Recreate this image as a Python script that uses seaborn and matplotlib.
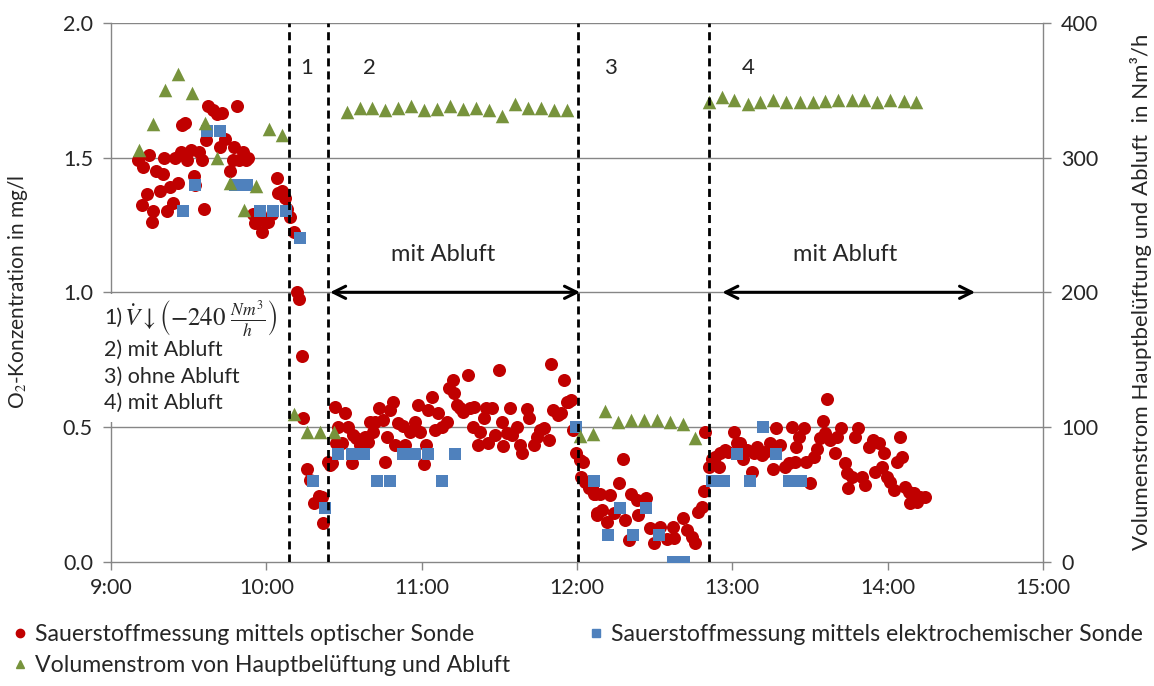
import numpy as np
import pandas as pd
import matplotlib
matplotlib.use("Agg")
import matplotlib.pyplot as plt
import seaborn as sns
from matplotlib.lines import Line2D
from matplotlib.patches import Rectangle
from matplotlib.ticker import FuncFormatter, MultipleLocator

# ---------------- data (time in minutes after 9:00) ----------------
opt_min = [10.5, 11.9, 12.5, 13.8, 14.8, 15.9, 16.4, 17.4, 18.9, 19.9, 20.4, 21.7, 22.8, 24.1, 24.7,
           26.0, 26.9, 27.6, 28.6, 29.5, 30.8, 32.1, 32.5, 33.8, 35.0, 35.9, 36.7, 37.6, 39.5, 40.8,
           42.1, 42.7, 44.0, 46.0, 47.3, 47.5, 48.6, 49.6, 51.1, 52.1, 53.0, 55.0, 55.6, 58.2, 58.9,
           60.8, 62.1, 64.0, 64.6, 65.9, 67.3, 67.9, 69.2,
           70.8, 71.7, 72.8, 73.7, 74.3, 75.9, 76.9, 78.5, 80.5, 81.4, 82.0, 83.9, 84.6, 85.3,
           86.5, 86.8, 87.8, 89.1, 90.4, 91.7, 93.0, 93.6, 94.7, 96.2, 98.1, 99.4, 100.1, 101.3,
           102.0, 103.7, 105.2, 105.9, 106.5, 107.8, 108.8, 109.7, 111.0, 112.9, 113.6, 115.5,
           117.5, 118.7, 119.4, 120.9, 121.7, 122.6, 123.9, 125.2, 126.5, 127.8, 129.7, 130.7,
           132.0, 132.3, 133.6, 134.8, 136.1, 137.8, 138.7, 139.8, 140.3, 141.9, 142.6, 143.9,
           144.8, 145.8, 147.1, 148.4, 149.7, 151.0, 151.6, 153.0, 154.0, 154.8, 156.8, 158.1,
           158.7, 160.6, 161.6, 163.2, 164.4, 165.8, 167.3, 169.0, 169.9, 170.9, 172.5, 173.8,
           174.8, 176.1, 176.7, 177.7, 178.6, 179.7, 181.2, 181.5, 182.5, 183.2, 184.8, 185.7,
           186.4, 187.0, 187.6, 187.7, 189.0, 189.6, 191.5, 192.8, 194.1, 196.4, 197.7, 198.6,
           199.9, 200.8, 203.1, 203.4, 206.7, 208.3, 209.8, 212.1, 214.7, 217.0, 217.3, 220.8,
           222.4, 224.3, 225.6, 226.9, 228.2, 229.1, 229.5, 230.8, 232.1, 233.4, 234.7, 235.3,
           237.3, 238.5, 240.5, 241.8, 242.8, 244.1, 245.6, 247.6, 248.2, 249.5, 251.4, 252.7,
           254.6, 255.9, 256.9, 258.5, 260.4, 261.7, 263.0, 264.3, 264.7, 265.6, 267.5, 268.6,
           270.1, 271.4, 272.7, 274.0, 275.0, 275.9, 276.5, 277.8, 279.7, 280.6, 281.9, 283.6,
           284.2, 284.8, 286.1, 287.4, 288.7, 290.0, 291.3, 292.6, 294.5, 295.2, 296.5, 297.8,
           298.4, 299.7, 301.0, 302.3, 303.6, 304.9, 305.5, 306.8, 308.1, 308.7, 310.0, 311.3,
           312.6, 314.5]
opt_val = [1.49, 1.325, 1.465, 1.365, 1.51, 1.26, 1.30, 1.45, 1.375, 1.44, 1.50, 1.30, 1.39, 1.33, 1.50,
           1.405, 1.52, 1.62, 1.63, 1.49, 1.53, 1.43, 1.40, 1.52, 1.49, 1.31, 1.565, 1.69, 1.675, 1.66,
           1.54, 1.665, 1.57, 1.45, 1.49, 1.54, 1.69, 1.49, 1.52, 1.49, 1.50, 1.29, 1.256, 1.225, 1.27,
           1.26, 1.29, 1.425, 1.37, 1.375, 1.35, 1.31, 1.28,
           1.225, 1.002, 0.974, 0.764, 0.532, 0.343, 0.303, 0.217, 0.243, 0.241, 0.142, 0.371, 0.36, 0.365,
           0.575, 0.439, 0.501, 0.442, 0.553, 0.501, 0.365, 0.470, 0.458, 0.433, 0.464, 0.446, 0.519, 0.482,
           0.519, 0.569, 0.526, 0.371, 0.464, 0.563, 0.594, 0.433, 0.514, 0.504, 0.433, 0.482,
           0.519, 0.582, 0.482, 0.362, 0.433, 0.563, 0.613, 0.489, 0.551, 0.501, 0.519, 0.643,
           0.674, 0.625, 0.582, 0.569, 0.557, 0.693, 0.569, 0.501, 0.575, 0.433, 0.482, 0.532,
           0.569, 0.439, 0.569, 0.470, 0.712, 0.519, 0.429, 0.477, 0.569, 0.470, 0.501, 0.433,
           0.402, 0.566, 0.532, 0.433, 0.464, 0.489, 0.495, 0.452, 0.733, 0.563, 0.545, 0.551,
           0.674, 0.594, 0.594, 0.600, 0.489, 0.402, 0.377, 0.315, 0.371, 0.296, 0.272, 0.278,
           0.253, 0.253, 0.180, 0.173, 0.253, 0.192, 0.148, 0.248, 0.180, 0.291, 0.380, 0.155,
           0.080, 0.253, 0.229, 0.173, 0.235, 0.124, 0.068, 0.130, 0.083, 0.130, 0.087, 0.161,
           0.117, 0.092, 0.068, 0.186, 0.204, 0.264, 0.482, 0.352, 0.383, 0.389, 0.352, 0.402,
           0.414, 0.408, 0.483, 0.439, 0.442, 0.383, 0.414, 0.334, 0.402, 0.426, 0.395, 0.408,
           0.442, 0.343, 0.495, 0.433, 0.352, 0.365, 0.501, 0.371, 0.424, 0.464, 0.495, 0.371,
           0.291, 0.389, 0.420, 0.458, 0.524, 0.477, 0.603, 0.452, 0.402, 0.464, 0.495, 0.365,
           0.328, 0.273, 0.315, 0.464, 0.495, 0.315, 0.285, 0.426, 0.452, 0.334, 0.439, 0.352,
           0.402, 0.315, 0.297, 0.266, 0.371, 0.464, 0.389, 0.279, 0.260, 0.217, 0.254, 0.223,
           0.241, 0.241]

el_min = [27.9, 32.5, 37.0, 42.1, 47.8, 52.6, 57.6, 62.7, 67.7, 72.9, 77.9, 82.7, 87.8, 93.0, 97.9,
          102.6, 107.8, 112.7, 117.5, 122.6, 127.8, 132.7, 179.7, 186.6, 191.8, 196.7, 201.8, 206.7,
          211.7, 217.0, 221.5, 232.1, 236.9, 241.8, 246.7, 251.9, 256.7, 261.9, 266.7]
el_val = [1.3, 1.4, 1.6, 1.6, 1.4, 1.4, 1.3, 1.3, 1.3, 1.2, 0.3, 0.2, 0.4, 0.4, 0.4,
          0.3, 0.3, 0.4, 0.4, 0.4, 0.3, 0.4, 0.5, 0.3, 0.1, 0.2, 0.1, 0.2,
          0.1, 0.0, 0.0, 0.3, 0.3, 0.4, 0.3, 0.5, 0.4, 0.3, 0.3]

vol_min = [10.9, 16.2, 21.0, 25.9, 31.1, 36.3, 41.0, 46.0, 51.2, 55.9, 61.0, 66.2, 70.7, 75.9, 80.8,
           86.0, 91.0, 96.0, 101.0, 106.0, 111.0, 116.0, 121.0, 126.0, 131.0, 136.0, 141.0, 146.0,
           151.0, 156.0, 161.0, 166.0, 171.0, 176.0, 181.0, 186.0, 190.9, 196.0, 200.9, 206.0,
           210.9, 216.0, 221.1, 225.7, 230.8, 235.9, 240.7, 245.9, 250.8, 255.9, 260.8, 266.0,
           271.1, 275.9, 281.0, 286.2, 290.7, 295.9, 301.0, 306.2, 311.1]
vol_val = [306, 325, 350, 362, 348, 326, 300, 281, 261, 279, 321, 317, 110, 96, 96,
           96, 334, 337, 337, 335, 337, 338, 335, 336, 338, 336, 337, 335,
           331, 340, 337, 337, 335, 335, 93, 95, 112, 104, 105, 105,
           105, 104, 102, 92, 341, 345, 343, 340, 341, 343, 341, 341,
           341, 342, 343, 343, 343, 341, 343, 342, 341]

phase_lines_min = [68.9, 83.8, 180.2, 230.8]
phase_labels = ["1", "2", "3", "4"]
phase_label_min = [75.7, 100.0, 192.8, 246.0]
arrow_spans_min = [(84.6, 181.2), (236.1, 333.8)]
arrow_text_min = [128.3, 283.6]
x_ticks_h = [9, 10, 11, 12, 13, 14, 15]
legend_labels = ["Sauerstoffmessung mittels optischer Sonde",
                 "Volumenstrom von Hauptbelüftung und Abluft",
                 "Sauerstoffmessung mittels elektrochemischer Sonde"]

RED, BLUE, GREEN = "#C00000", "#4F81BD", "#77933C"
GRID = "#868686"

sns.set_theme(style="white")
plt.rcParams['font.family'] = ['Lato', 'DejaVu Sans']
plt.rcParams['mathtext.fontset'] = 'stix'

W, H = 1154, 686
fig = plt.figure(figsize=(W / 100, H / 100), dpi=100)
x0, x1, ytop, ybot = 111, 1043, 22.9, 561.7
ax = fig.add_axes([x0 / W, 1 - ybot / H, (x1 - x0) / W, (ybot - ytop) / H])
ax2 = ax.twinx()

df_opt = pd.DataFrame({"t": 9 + np.array(opt_min) / 60, "v": opt_val})
df_el = pd.DataFrame({"t": 9 + np.array(el_min) / 60, "v": el_val})
df_vol = pd.DataFrame({"t": 9 + np.array(vol_min) / 60, "v": vol_val})

sns.scatterplot(data=df_opt, x="t", y="v", ax=ax, color=RED, marker="o", s=88,
                linewidth=0, zorder=3, legend=False)
sns.scatterplot(data=df_el, x="t", y="v", ax=ax, color=BLUE, marker="s", s=66,
                linewidth=0, zorder=4, legend=False)
sns.scatterplot(data=df_vol, x="t", y="v", ax=ax2, color=GREEN, marker="^", s=95,
                linewidth=0, zorder=3, legend=False)

ax.set_xlim(9, 15)
ax.set_ylim(0, 2)
ax2.set_ylim(0, 400)
ax.set_xticks(x_ticks_h)
ax.xaxis.set_major_formatter(FuncFormatter(lambda v, p: f"{int(round(v))}:00"))
ax.yaxis.set_major_locator(MultipleLocator(0.5))
ax.yaxis.set_major_formatter(FuncFormatter(lambda v, p: f"{v:.1f}"))
ax2.yaxis.set_major_locator(MultipleLocator(100))

ax.set_xlabel("")
ax.set_ylabel("O$_2$-Konzentration in mg/l", fontsize=15)
ax.yaxis.set_label_coords(-0.087, 0.5)
ax2.set_ylabel("Volumenstrom Hauptbelüftung und Abluft  in Nm³/h", fontsize=16, rotation=90)
ax2.yaxis.set_label_coords(1.093, 0.5)

ax.grid(False)
ax2.grid(False)
for yv in [0.5, 1.0, 1.5, 2.0]:
    ax.axhline(yv, color=GRID, lw=1.0, zorder=1)

for sp in ["top", "right"]:
    ax.spines[sp].set_visible(False)
for sp in ["top", "left", "bottom"]:
    ax2.spines[sp].set_visible(False)
for sp in [ax.spines["left"], ax.spines["bottom"], ax2.spines["right"]]:
    sp.set_color(GRID)
    sp.set_linewidth(1.0)

ax.tick_params(axis="y", direction="out", length=6, width=1, color=GRID, labelsize=15.5, pad=7, left=True)
ax.tick_params(axis="x", direction="out", length=6, width=1, color=GRID, labelsize=15.5, pad=6, bottom=True)
ax2.tick_params(axis="y", direction="out", length=6, width=1, color=GRID, labelsize=15.5, pad=7, right=True)

# phase separators and labels
for m in phase_lines_min:
    ax2.axvline(9 + m / 60, color="black", lw=2.0, ls=(0, (2.9, 1.8)), zorder=6)
for lab, m in zip(phase_labels, phase_label_min):
    ax2.text(9 + m / 60, 366.6, lab, fontsize=16, ha="center", va="center", zorder=7)

# arrows "mit Abluft"
for (a, b), mt in zip(arrow_spans_min, arrow_text_min):
    ax2.annotate("", xy=(9 + b / 60, 200), xytext=(9 + a / 60, 200),
                 arrowprops=dict(arrowstyle="<->", lw=2.2, color="black",
                                 mutation_scale=22, shrinkA=0, shrinkB=0), zorder=7)
    ax2.text(9 + mt / 60, 228.4, "mit Abluft", fontsize=17, ha="center", va="center", zorder=7)

# annotation box
fig.add_artist(Rectangle((103 / W, 1 - 422 / H), (287 - 103) / W, (422 - 294) / H,
                         transform=fig.transFigure, facecolor="white", edgecolor="none", zorder=5))
fig.text(104 / W, 1 - 318 / H, "1)", fontsize=15.5, va="center", ha="left", zorder=6)
fig.text(124 / W, 1 - 318 / H, r"$\dot{V}\downarrow\left(-240\ \frac{Nm^3}{h}\right)$",
         fontsize=18, va="center", ha="left", zorder=6)
for txt, yp in zip(["2) mit Abluft", "3) ohne Abluft", "4) mit Abluft"], [350, 376.7, 403.3]):
    fig.text(104 / W, 1 - yp / H, txt, fontsize=15.5, va="center", ha="left", zorder=6)

# legend
handles = [Line2D([], [], marker="o", color=RED, ls="none", markersize=6),
           Line2D([], [], marker="^", color=GREEN, ls="none", markersize=6),
           Line2D([], [], marker="s", color=BLUE, ls="none", markersize=6)]
fig.legend(handles, legend_labels, loc="upper left", bbox_to_anchor=(11 / W, 1 - 624 / H),
           ncol=2, frameon=False, fontsize=16.7, handlelength=0.8, handletextpad=0.25,
           columnspacing=3.3, labelspacing=0.45, borderaxespad=0, borderpad=0)

fig.savefig("out.png", dpi=100)
